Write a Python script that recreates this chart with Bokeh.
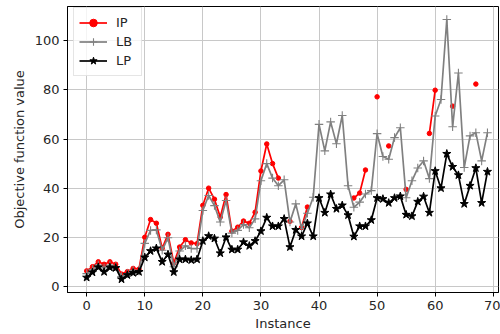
import math
from bokeh.plotting import figure
from bokeh.models import ColumnDataSource, Legend, LegendItem, Range1d, FixedTicker
from bokeh.embed import file_html
from bokeh.resources import INLINE

nan = float("nan")

instances = list(range(70))

ip = [6.3, 8, 10, 9, 10, 9, 5, 6, 7.3, 7,
      20, 27.2, 25.7, 15.5, 21.2, 9.5, 16, 19, 17.7, 17.4,
      33, 40, 35.5, 28.2, 37.4, 22.5, 24.1, 26.6, 25.7, 30.2,
      47, 58, 50, 44.1, nan, 26.5, nan, 24, 32.3, nan,
      nan, nan, nan, nan, nan, nan, 36, 38, 47.4, nan,
      77.2, nan, 57.2, nan, nan, 39.5, nan, nan, nan, 62.3,
      79.9, nan, nan, 73.4, nan, nan, nan, 82.4, nan, nan]

lb = [5.2, 7, 8.7, 7.5, 8.7, 8, 4, 5.2, 6.5, 6.3,
      17.5, 22.8, 23, 14.7, 19.8, 8, 14.4, 16.5, 15.4, 15.4,
      30.9, 37, 32.9, 26.2, 35, 21.7, 22.8, 25.2, 23.9, 27.5,
      43, 50, 44.1, 41, 43.4, 26.2, 33.6, 23.6, 29.8, 36.3,
      66, 55.2, 67, 58.1, 69.6, 41, 32.2, 34.3, 37.6, 39,
      62.2, 52.9, 51.8, 60.6, 64.6, 36.1, 43, 48.2, 51.1, 43.9,
      69.4, 76.1, 108.7, 65, 86.9, 48.4, 61.3, 62.6, 51.1, 62.6]

lp = [3.6, 5.7, 7.8, 5.9, 7.7, 7.5, 2.9, 4.6, 5.5, 5.9,
      11.8, 14.4, 15.5, 10, 13, 5.8, 11, 11, 10.7, 11,
      18.5, 20.5, 19.5, 13.5, 20, 15, 15, 18, 16.5, 18.5,
      22.5, 28, 24.5, 24.5, 27.5, 16, 23, 20.4, 25.7, 20.4,
      36, 30, 37.5, 31.6, 33, 29, 20.3, 24.5, 24.5, 27,
      36, 35.6, 34, 36, 36.7, 29.2, 28.6, 34.5, 36.6, 30,
      47, 40, 54, 48.7, 45.3, 33.6, 41, 48.2, 34, 46.7]

x_ticks = [0, 10, 20, 30, 40, 50, 60, 70]
y_ticks = [0, 20, 40, 60, 80, 100]

src = ColumnDataSource(dict(x=instances, ip=ip, lb=lb, lp=lp))

p = figure(width=500, height=334, output_backend="svg", toolbar_location=None,
           x_range=Range1d(-3.3, 70.9), y_range=Range1d(-2.5, 114),
           min_border_left=67, min_border_right=2, min_border_top=6,
           min_border_bottom=42, background_fill_color="white",
           border_fill_color="white")

FONT = "DejaVu Sans"
TXT = "#262626"

ip_line = p.line("x", "ip", source=src, line_color="red", line_width=1.7)
ip_pts = p.scatter("x", "ip", source=src, marker="circle", size=4.5,
                   fill_color="red", line_color="red")
lb_line = p.line("x", "lb", source=src, line_color="grey", line_width=1.7)
lb_pts = p.scatter("x", "lb", source=src, marker="cross", size=8.5,
                   line_color="grey", line_width=1.1)
lp_line = p.line("x", "lp", source=src, line_color="black", line_width=1.7)
lp_pts = p.scatter("x", "lp", source=src, marker="star", size=8.5,
                   fill_color="black", line_color="black")

legend = Legend(items=[
    LegendItem(label="IP", renderers=[ip_line, ip_pts]),
    LegendItem(label="LB", renderers=[lb_line, lb_pts]),
    LegendItem(label="LP", renderers=[lp_line, lp_pts]),
], location=(6, 216))
legend.margin = 0
legend.padding = 5
legend.spacing = 0
legend.glyph_width = 28
legend.glyph_height = 19
legend.label_height = 19
legend.label_standoff = 9
legend.label_text_font = FONT
legend.label_text_font_size = "13px"
legend.label_text_color = TXT
legend.border_line_color = "#cccccc"
legend.border_line_width = 1
legend.background_fill_alpha = 0.8
p.add_layout(legend)

p.xaxis.ticker = FixedTicker(ticks=x_ticks)
p.yaxis.ticker = FixedTicker(ticks=y_ticks)
for ax in (p.xaxis, p.yaxis):
    ax.major_label_text_font = FONT
    ax.major_label_text_font_size = "13px"
    ax.major_label_text_color = TXT
    ax.axis_label_text_font = FONT
    ax.axis_label_text_font_size = "13px"
    ax.axis_label_text_font_style = "normal"
    ax.axis_label_text_color = TXT
    ax.minor_tick_line_color = None
    ax.major_tick_out = 4
    ax.major_tick_in = 0
    ax.major_tick_line_color = "black"
    ax.axis_line_color = "black"
    ax.major_label_standoff = 4
p.xaxis.axis_label = "Instance"
p.yaxis.axis_label = "Objective function value"
p.xaxis.axis_label_standoff = 3
p.yaxis.axis_label_standoff = 5

p.grid.grid_line_color = "#c8c8c8"
p.grid.grid_line_width = 1
p.outline_line_color = "black"
p.outline_line_width = 1

open("out.html", "w").write(file_html(p, INLINE))
